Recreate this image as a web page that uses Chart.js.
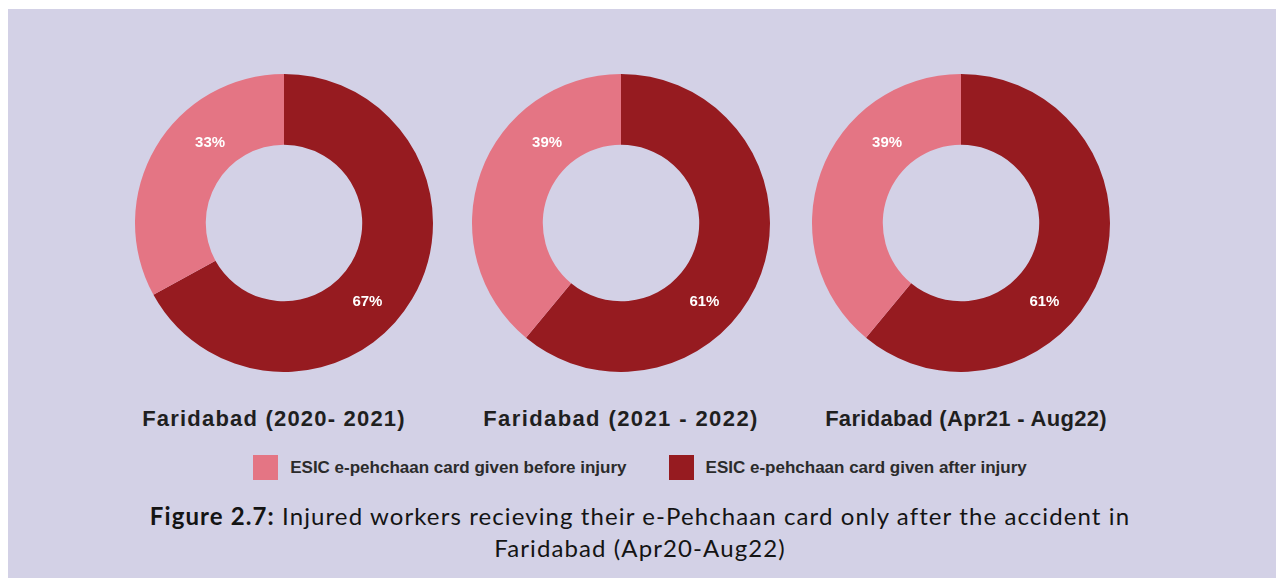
<!DOCTYPE html>
<html>
<head>
<meta charset="utf-8">
<script src="https://cdn.jsdelivr.net/npm/chart.js@4.4.0/dist/chart.umd.min.js"></script>
<style>
    body {
        margin: 0;
        width: 1280px;
        height: 578px;
        overflow: hidden;
        position: relative;
        background: #ffffff;
        font-family: "Liberation Sans", Arial, sans-serif;
    }
    #panel {
        position: absolute;
        left: 8px;
        top: 9px;
        width: 1268px;
        height: 569px;
        background: #d3d1e6;
    }
    canvas.donut {
        position: absolute;
        top: 74px;
    }
    .period {
        position: absolute;
        top: 405px;
        width: 400px;
        text-align: center;
        font-weight: bold;
        font-size: 22px;
        line-height: 28px;
        color: #1f1f1f;
    }
    #legend {
        position: absolute;
        top: 455px;
        left: 0;
        width: 1280px;
        display: flex;
        justify-content: center;
        align-items: center;
        font-weight: bold;
        font-size: 17px;
        color: #2b2b2b;
    }
    .legend-item {
        display: flex;
        align-items: center;
        margin: 0 21px;
    }
    .legend-box {
        width: 25px;
        height: 25px;
        margin-right: 12px;
    }
    #caption {
        position: absolute;
        top: 500px;
        left: 0;
        width: 1280px;
        text-align: center;
        font-family: Lato, "Open Sans", sans-serif;
        font-size: 24px;
        letter-spacing: 1.1px;
        line-height: 32px;
        color: #141414;
    }
</style>
</head>
<body>
<div id="panel"></div>
<canvas class="donut" id="donut0" width="340" height="298" style="left:114px"></canvas>
<canvas class="donut" id="donut1" width="340" height="298" style="left:451px"></canvas>
<canvas class="donut" id="donut2" width="340" height="298" style="left:791px"></canvas>
<div id="titles"></div>
<div id="legend"></div>
<div id="caption"><b>Figure 2.7:</b> Injured workers recieving their e-Pehchaan card only after the accident in<br>Faridabad (Apr20-Aug22)</div>

<script>
const periods = ['Faridabad (2020- 2021)', 'Faridabad (2021 - 2022)', 'Faridabad (Apr21 - Aug22)'];
const seriesNames = ['ESIC e-pehchaan card given before injury', 'ESIC e-pehchaan card given after injury'];
const beforeInjury = [33, 39, 39];
const afterInjury = [67, 61, 61];

const LIGHT = '#e47584';
const DARK = '#961b20';
const titleCenters = [274, 621, 966];
const titleSpacing = [1.2, 1.4, 0.3];

// percentage text drawn on each ring segment
const sliceLabels = {
    id: 'sliceLabels',
    afterDatasetsDraw(chart, args, opts) {
        const ctx = chart.ctx;
        const values = chart.data.datasets[0].data;
        ctx.save();
        ctx.fillStyle = opts.color;
        ctx.font = opts.font;
        ctx.textAlign = 'center';
        ctx.textBaseline = 'middle';
        chart.getDatasetMeta(0).data.forEach((arc, i) => {
            const a = opts.angles[i] * Math.PI / 180 - Math.PI / 2;
            const r = arc.innerRadius + (arc.outerRadius - arc.innerRadius) * opts.depth[i];
            ctx.fillText(values[i] + '%', arc.x + r * Math.cos(a), arc.y + r * Math.sin(a));
        });
        ctx.restore();
    }
};

function createDonut(i) {
    const ctx = document.getElementById('donut' + i).getContext('2d');
    return new Chart(ctx, {
        type: 'doughnut',
        data: {
            // after-injury first so it starts at 12 o'clock and runs clockwise
            labels: [seriesNames[1], seriesNames[0]],
            datasets: [{
                data: [afterInjury[i], beforeInjury[i]],
                backgroundColor: [DARK, LIGHT],
                borderWidth: 0,
                hoverOffset: 0
            }]
        },
        options: {
            responsive: false,
            animation: false,
            events: [],
            cutout: '52.5%',
            layout: { padding: 0 },
            plugins: {
                legend: { display: false },
                tooltip: { enabled: false },
                sliceLabels: {
                    color: '#ffffff',
                    font: 'bold 15px "Liberation Sans", Arial, sans-serif',
                    angles: [133.5, 317.5],
                    depth: [0.52, 0.44]
                }
            }
        },
        plugins: [sliceLabels]
    });
}

function buildTitles() {
    const box = document.getElementById('titles');
    periods.forEach((p, i) => {
        const t = document.createElement('div');
        t.className = 'period';
        t.style.left = (titleCenters[i] - 200) + 'px';
        t.style.letterSpacing = titleSpacing[i] + 'px';
        t.textContent = p;
        box.appendChild(t);
    });
}

function buildLegend() {
    const legend = document.getElementById('legend');
    [LIGHT, DARK].forEach((color, i) => {
        const item = document.createElement('div');
        item.className = 'legend-item';
        item.innerHTML = `<span class="legend-box" style="background:${color}"></span>${seriesNames[i]}`;
        legend.appendChild(item);
    });
}

window.addEventListener('load', () => {
    periods.forEach((p, i) => createDonut(i));
    buildTitles();
    buildLegend();
});
</script>
</body>
</html>
